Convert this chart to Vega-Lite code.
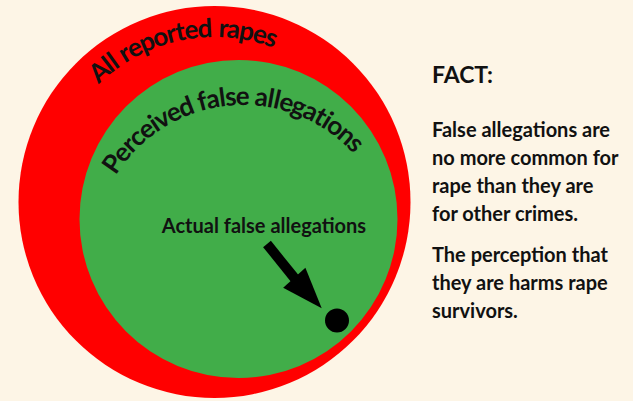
{
  "$schema": "https://vega.github.io/schema/vega-lite/v6.json",
  "width": 633,
  "height": 401,
  "padding": 0,
  "autosize": {"type": "fit", "contains": "padding"},
  "background": "#fdf5e6",
  "config": {"view": {"stroke": null}},
  "datasets": {
    "circles": [
      {"name": "All reported rapes", "cx": 214.5, "cy": 202, "r": 196},
      {"name": "Perceived false allegations", "cx": 238.5, "cy": 219, "r": 159},
      {"name": "Actual false allegations", "cx": 337, "cy": 320.5, "r": 12}
    ],
    "shaft": [{"x": 267, "y": 244, "x2": 296, "y2": 280}],
    "head": [{"x": 308, "y": 293, "a": -42}],
    "curved": [
      {"c": "A", "x": 105.3, "y": 78.3, "a": -41.43},
      {"c": "l", "x": 113.6, "y": 71.5, "a": -37.72},
      {"c": "l", "x": 118.4, "y": 67.9, "a": -35.64},
      {"c": "r", "x": 129.2, "y": 60.8, "a": -31.14},
      {"c": "e", "x": 138.5, "y": 55.6, "a": -27.43},
      {"c": "p", "x": 150.2, "y": 50.0, "a": -22.93},
      {"c": "o", "x": 162.8, "y": 45.3, "a": -18.26},
      {"c": "r", "x": 173.5, "y": 42.2, "a": -14.39},
      {"c": "t", "x": 182.0, "y": 40.2, "a": -11.35},
      {"c": "e", "x": 192.5, "y": 38.5, "a": -7.68},
      {"c": "d", "x": 205.3, "y": 37.25, "a": -3.18},
      {"c": "r", "x": 223.0, "y": 37.2, "a": 2.96},
      {"c": "a", "x": 232.55, "y": 38.0, "a": 6.28},
      {"c": "p", "x": 245.25, "y": 39.9, "a": 10.74},
      {"c": "e", "x": 257.9, "y": 42.8, "a": 15.24},
      {"c": "s", "x": 268.6, "y": 46.1, "a": 19.15},
      {"c": "P", "x": 120.1, "y": 169.0, "a": -55.04},
      {"c": "e", "x": 128.1, "y": 158.6, "a": -50.0},
      {"c": "r", "x": 135.3, "y": 150.6, "a": -45.92},
      {"c": "c", "x": 142.4, "y": 143.7, "a": -42.12},
      {"c": "e", "x": 151.4, "y": 136.2, "a": -37.62},
      {"c": "i", "x": 158.9, "y": 130.8, "a": -34.09},
      {"c": "v", "x": 166.5, "y": 126.0, "a": -30.66},
      {"c": "e", "x": 177.3, "y": 120.1, "a": -25.98},
      {"c": "d", "x": 189.2, "y": 115.0, "a": -21.03},
      {"c": "f", "x": 204.6, "y": 110.0, "a": -14.84},
      {"c": "a", "x": 214.4, "y": 107.7, "a": -10.99},
      {"c": "l", "x": 223.4, "y": 106.3, "a": -7.51},
      {"c": "s", "x": 231.4, "y": 105.45, "a": -4.44},
      {"c": "e", "x": 242.66, "y": 105.0, "a": -0.13},
      {"c": "a", "x": 260.5, "y": 106.0, "a": 6.7},
      {"c": "l", "x": 269.5, "y": 107.4, "a": 10.18},
      {"c": "l", "x": 275.4, "y": 108.5, "a": 12.48},
      {"c": "e", "x": 284.4, "y": 110.8, "a": 16.01},
      {"c": "g", "x": 296.0, "y": 114.7, "a": 20.68},
      {"c": "a", "x": 307.1, "y": 119.4, "a": 25.31},
      {"c": "t", "x": 316.4, "y": 124.2, "a": 29.3},
      {"c": "i", "x": 322.7, "y": 127.9, "a": 32.09},
      {"c": "o", "x": 330.8, "y": 133.4, "a": 35.81},
      {"c": "n", "x": 341.3, "y": 141.7, "a": 40.94},
      {"c": "s", "x": 349.8, "y": 149.7, "a": 45.43}
    ],
    "label": [{"text": "Actual false allegations", "x": 264, "y": 233.3}],
    "heading": [{"text": "FACT:", "x": 432, "y": 83}],
    "body": [
      {"text": "False allegations are", "x": 432, "y": 137.3},
      {"text": "no more common for", "x": 432, "y": 165},
      {"text": "rape than they are", "x": 432, "y": 192.7},
      {"text": "for other crimes.", "x": 432, "y": 220.7},
      {"text": "The perception that", "x": 432, "y": 262.3},
      {"text": "they are harms rape", "x": 432, "y": 290},
      {"text": "survivors.", "x": 432, "y": 318}
    ]
  },
  "layer": [
    {
      "data": {"name": "circles"},
      "mark": {"type": "point", "filled": true, "opacity": 1, "strokeWidth": 0},
      "encoding": {
        "x": {"field": "cx", "type": "quantitative", "scale": {"domain": [0, 633], "nice": false, "zero": false}, "axis": null},
        "y": {"field": "cy", "type": "quantitative", "scale": {"domain": [0, 401], "nice": false, "zero": false, "reverse": true}, "axis": null},
        "size": {"field": "r", "type": "quantitative", "scale": {"type": "pow", "exponent": 2, "domain": [0, 200], "range": [0, 160000]}, "legend": null},
        "color": {"field": "name", "type": "nominal", "scale": {"domain": ["All reported rapes", "Perceived false allegations", "Actual false allegations"], "range": ["#ff0000", "#41ad49", "#000000"]}, "legend": null},
        "order": {"field": "r", "sort": "descending"}
      }
    },
    {
      "data": {"name": "shaft"},
      "mark": {"type": "rule", "color": "#000000", "strokeWidth": 10, "strokeCap": "butt"},
      "encoding": {
        "x": {"field": "x", "type": "quantitative", "scale": {"domain": [0, 633], "nice": false, "zero": false}, "axis": null},
        "y": {"field": "y", "type": "quantitative", "scale": {"domain": [0, 401], "nice": false, "zero": false, "reverse": true}, "axis": null},
        "x2": {"field": "x2"},
        "y2": {"field": "y2"}
      }
    },
    {
      "data": {"name": "head"},
      "mark": {"type": "point", "filled": true, "opacity": 1, "color": "#000000", "strokeWidth": 0, "shape": "M -0.73 -1 L 0.73 -1 L 0 1 Z", "size": 1681},
      "encoding": {
        "x": {"field": "x", "type": "quantitative", "scale": {"domain": [0, 633], "nice": false, "zero": false}, "axis": null},
        "y": {"field": "y", "type": "quantitative", "scale": {"domain": [0, 401], "nice": false, "zero": false, "reverse": true}, "axis": null},
        "angle": {"field": "a", "type": "quantitative", "scale": null}
      }
    },
    {
      "data": {"name": "curved"},
      "mark": {"type": "text", "font": "Lato", "fontWeight": "bold", "fontSize": 26, "align": "center", "baseline": "alphabetic", "color": "#111111"},
      "encoding": {
        "x": {"field": "x", "type": "quantitative", "scale": {"domain": [0, 633], "nice": false, "zero": false}, "axis": null},
        "y": {"field": "y", "type": "quantitative", "scale": {"domain": [0, 401], "nice": false, "zero": false, "reverse": true}, "axis": null},
        "angle": {"field": "a", "type": "quantitative", "scale": null},
        "text": {"field": "c"}
      }
    },
    {
      "data": {"name": "label"},
      "mark": {"type": "text", "font": "Lato", "fontWeight": "bold", "fontSize": 20, "align": "center", "baseline": "alphabetic", "color": "#111111"},
      "encoding": {
        "x": {"field": "x", "type": "quantitative", "scale": {"domain": [0, 633], "nice": false, "zero": false}, "axis": null},
        "y": {"field": "y", "type": "quantitative", "scale": {"domain": [0, 401], "nice": false, "zero": false, "reverse": true}, "axis": null},
        "text": {"field": "text"}
      }
    },
    {
      "data": {"name": "heading"},
      "mark": {"type": "text", "font": "Lato", "fontWeight": "bold", "fontSize": 23, "align": "left", "baseline": "alphabetic", "color": "#111111"},
      "encoding": {
        "x": {"field": "x", "type": "quantitative", "scale": {"domain": [0, 633], "nice": false, "zero": false}, "axis": null},
        "y": {"field": "y", "type": "quantitative", "scale": {"domain": [0, 401], "nice": false, "zero": false, "reverse": true}, "axis": null},
        "text": {"field": "text"}
      }
    },
    {
      "data": {"name": "body"},
      "mark": {"type": "text", "font": "Lato", "fontWeight": "bold", "fontSize": 20, "align": "left", "baseline": "alphabetic", "color": "#111111"},
      "encoding": {
        "x": {"field": "x", "type": "quantitative", "scale": {"domain": [0, 633], "nice": false, "zero": false}, "axis": null},
        "y": {"field": "y", "type": "quantitative", "scale": {"domain": [0, 401], "nice": false, "zero": false, "reverse": true}, "axis": null},
        "text": {"field": "text"}
      }
    }
  ]
}
